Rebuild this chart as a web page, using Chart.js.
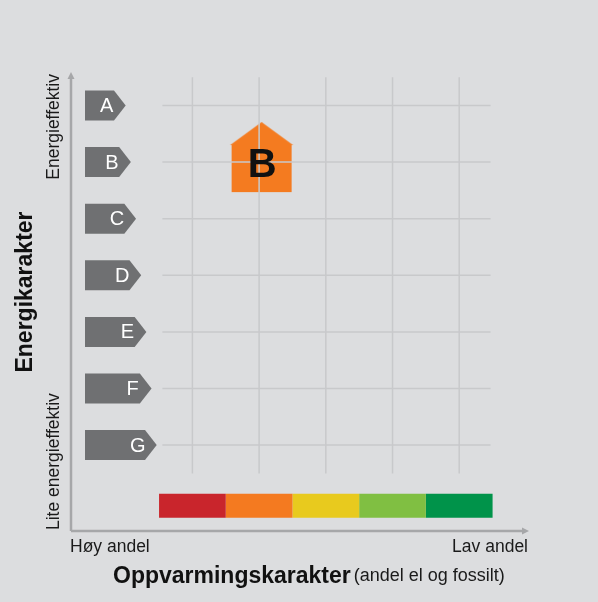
<!DOCTYPE html>
<html>
<head>
<meta charset="utf-8">
<script src="https://cdn.jsdelivr.net/npm/chart.js@4"></script>
<style>
  body { margin: 0; background: #dcdddf; }
  canvas { display: block; }
</style>
</head>
<body>
<canvas id="energyChart" width="598" height="602"></canvas>
<script>
// Energy grades (rows, top = best) and heating grades (columns, left = high share el/fossil)
const energyClasses = ['A', 'B', 'C', 'D', 'E', 'F', 'G'];
const heatingClasses = ['Rød', 'Oransje', 'Gul', 'Lysegrønn', 'Grønn'];
const heatingColours = ['#c9252c', '#f47a20', '#e8ca1e', '#80bf42', '#00934a'];

// The rated building
const ratedEnergy = 'B';
const ratedHeating = 'Oransje';

// Axis texts
const yAxisTitle = 'Energikarakter';
const yAxisEnds = ['Energieffektiv', 'Lite energieffektiv'];
const xAxisTitle = 'Oppvarmingskarakter';
const xAxisNote = '(andel el og fossilt)';
const xAxisEnds = ['Høy andel', 'Lav andel'];

const FONT = '"Liberation Sans", Arial, sans-serif';
const gridColour = '#c8c9cb';
const axisColour = '#a6a7a9';
const labelGrey = '#6f7072';
const houseOrange = '#f47b20';
const barRow = 7.07; // row position of the colour bar

// house shaped point marker (drawn a little right of centre, like the original)
function makeHouse() {
  const c = document.createElement('canvas');
  c.width = 69; c.height = 80;
  const g = c.getContext('2d');
  g.fillStyle = houseOrange;
  g.beginPath();
  g.moveTo(37, 0);
  g.lineTo(68.5, 23);
  g.lineTo(67, 23);
  g.lineTo(67, 70);
  g.lineTo(7, 70);
  g.lineTo(7, 23);
  g.lineTo(5.5, 23);
  g.closePath();
  g.fill();
  return c;
}

const datasets = [];

// horizontal grid lines, one per energy class
energyClasses.forEach((cls, i) => {
  datasets.push({
    type: 'line',
    data: [{ x: -0.45, y: i }, { x: heatingClasses.length - 0.53, y: i }],
    borderColor: gridColour, borderWidth: 1.5, pointRadius: 0
  });
});

// vertical grid lines, one per heating class
heatingClasses.forEach((cls, j) => {
  datasets.push({
    type: 'line',
    data: [{ x: j, y: -0.5 }, { x: j, y: energyClasses.length - 0.5 }],
    borderColor: gridColour, borderWidth: 1.5, pointRadius: 0
  });
});

// colour bar for the heating classes
heatingClasses.forEach((cls, j) => {
  datasets.push({
    type: 'line',
    data: [{ x: j - 0.5, y: barRow }, { x: j + 0.5, y: barRow }],
    borderColor: heatingColours[j], borderWidth: 24, borderCapStyle: 'butt', pointRadius: 0
  });
});

// the rating marker
datasets.push({
  type: 'scatter',
  data: [{ x: heatingClasses.indexOf(ratedHeating), y: energyClasses.indexOf(ratedEnergy) }],
  pointStyle: makeHouse(), pointRadius: 34
});

const decorations = {
  id: 'decorations',
  afterDatasetsDraw(chart) {
    const ctx = chart.ctx;
    const x = chart.scales.x, y = chart.scales.y;
    const area = chart.chartArea;
    ctx.save();

    // axes with arrow heads
    const ax = area.left + 1, ay = area.bottom;
    ctx.strokeStyle = axisColour;
    ctx.fillStyle = axisColour;
    ctx.lineWidth = 2.5;
    ctx.beginPath();
    ctx.moveTo(ax, ay);
    ctx.lineTo(ax, area.top + 5);
    ctx.moveTo(ax, ay);
    ctx.lineTo(area.right - 5, ay);
    ctx.stroke();
    ctx.beginPath();
    ctx.moveTo(ax, area.top);
    ctx.lineTo(ax - 3.5, area.top + 7);
    ctx.lineTo(ax + 3.5, area.top + 7);
    ctx.closePath();
    ctx.fill();
    ctx.beginPath();
    ctx.moveTo(area.right, ay);
    ctx.lineTo(area.right - 7, ay - 3.5);
    ctx.lineTo(area.right - 7, ay + 3.5);
    ctx.closePath();
    ctx.fill();

    // energy class arrows
    const left = area.left + 15;
    energyClasses.forEach((cls, i) => {
      const cy = y.getPixelForValue(i);
      const body = left + 29 + 5.17 * i;
      const tip = body + 11.7;
      ctx.fillStyle = labelGrey;
      ctx.beginPath();
      ctx.moveTo(left, cy - 15);
      ctx.lineTo(body, cy - 15);
      ctx.lineTo(tip, cy);
      ctx.lineTo(body, cy + 15);
      ctx.lineTo(left, cy + 15);
      ctx.closePath();
      ctx.fill();
      ctx.fillStyle = '#ffffff';
      ctx.font = '20px ' + FONT;
      ctx.textAlign = 'center';
      ctx.textBaseline = 'middle';
      ctx.fillText(cls, tip - 19, cy + 1);
    });

    // letter in the house marker
    const hx = x.getPixelForValue(heatingClasses.indexOf(ratedHeating));
    const hy = y.getPixelForValue(energyClasses.indexOf(ratedEnergy));
    ctx.fillStyle = '#111111';
    ctx.font = 'bold 40px ' + FONT;
    ctx.textAlign = 'center';
    ctx.textBaseline = 'middle';
    ctx.fillText(ratedEnergy, hx + 3, hy + 4);

    // y axis texts
    ctx.save();
    ctx.translate(26, 292);
    ctx.rotate(-Math.PI / 2);
    ctx.font = 'bold 23px ' + FONT;
    ctx.fillStyle = '#111111';
    ctx.fillText(yAxisTitle, 0, 0);
    ctx.restore();

    ctx.save();
    ctx.translate(54, 0);
    ctx.rotate(-Math.PI / 2);
    ctx.font = '17.5px ' + FONT;
    ctx.fillStyle = '#1a1a1a';
    ctx.textBaseline = 'middle';
    ctx.textAlign = 'right';
    ctx.fillText(yAxisEnds[0], -74, 0);
    ctx.textAlign = 'left';
    ctx.fillText(yAxisEnds[1], -530, 0);
    ctx.restore();

    // x axis texts
    ctx.font = '17.5px ' + FONT;
    ctx.fillStyle = '#1a1a1a';
    ctx.textBaseline = 'middle';
    ctx.textAlign = 'left';
    ctx.fillText(xAxisEnds[0], 70, 547);
    ctx.textAlign = 'right';
    ctx.fillText(xAxisEnds[1], 528, 547);

    ctx.textAlign = 'left';
    ctx.font = 'bold 23px ' + FONT;
    ctx.fillStyle = '#111111';
    ctx.fillText(xAxisTitle, 113, 577);
    const tw = ctx.measureText(xAxisTitle).width;
    ctx.font = '18px ' + FONT;
    ctx.fillStyle = '#1a1a1a';
    ctx.fillText(xAxisNote, 113 + tw + 3, 576);

    ctx.restore();
  }
};

new Chart(document.getElementById('energyChart'), {
  type: 'scatter',
  data: { datasets: datasets },
  options: {
    responsive: false,
    animation: false,
    layout: { padding: { left: 70, right: 69, top: 72, bottom: 71 } },
    plugins: { legend: { display: false }, tooltip: { enabled: false } },
    scales: {
      x: { type: 'linear', display: false, min: -1.835, max: 5.046 },
      y: { type: 'linear', display: false, reverse: true, min: -0.592, max: 7.518 }
    }
  },
  plugins: [decorations]
});
</script>
</body>
</html>
